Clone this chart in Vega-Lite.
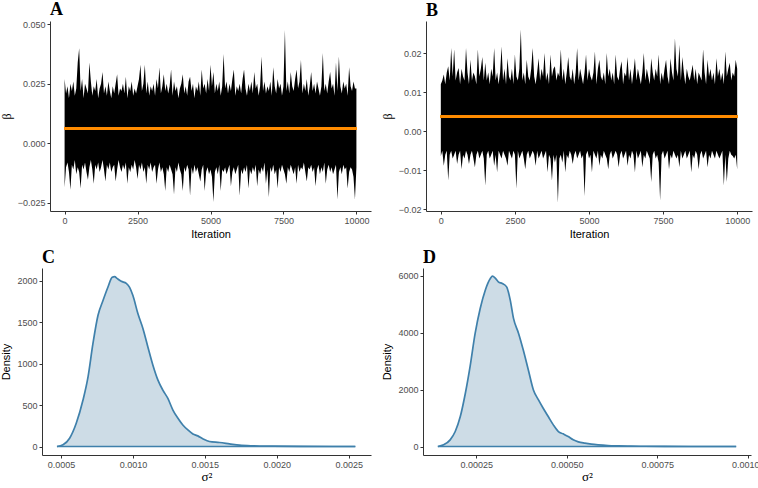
{
"$schema": "https://vega.github.io/schema/vega-lite/v6.json",
"padding": {"left": 0, "top": 1, "right": 0, "bottom": 0},
"background": "white",
"spacing": 10,
"datasets": {
"A": [
{"i":0,"lo":-0.0185,"hi":0.027},{"i":50,"lo":-0.010,"hi":0.021},{"i":100,"lo":-0.008,"hi":0.024},{"i":150,"lo":-0.012,"hi":0.019},{"i":200,"lo":-0.0195,"hi":0.025},{"i":250,"lo":-0.009,"hi":0.022},{"i":300,"lo":-0.011,"hi":0.026},{"i":350,"lo":-0.007,"hi":0.020},{"i":400,"lo":-0.013,"hi":0.023},{"i":450,"lo":-0.010,"hi":0.034},
{"i":500,"lo":-0.012,"hi":0.040},{"i":550,"lo":-0.019,"hi":0.022},{"i":600,"lo":-0.009,"hi":0.027},{"i":650,"lo":-0.011,"hi":0.019},{"i":700,"lo":-0.008,"hi":0.025},{"i":750,"lo":-0.012,"hi":0.023},{"i":800,"lo":-0.0153,"hi":0.021},{"i":850,"lo":-0.010,"hi":0.034},{"i":900,"lo":-0.007,"hi":0.026},{"i":950,"lo":-0.011,"hi":0.020},
{"i":1000,"lo":-0.017,"hi":0.024},{"i":1050,"lo":-0.009,"hi":0.022},{"i":1100,"lo":-0.011,"hi":0.027},{"i":1150,"lo":-0.008,"hi":0.019},{"i":1200,"lo":-0.012,"hi":0.023},{"i":1250,"lo":-0.010,"hi":0.025},{"i":1300,"lo":-0.007,"hi":0.030},{"i":1350,"lo":-0.011,"hi":0.021},{"i":1400,"lo":-0.016,"hi":0.024},{"i":1450,"lo":-0.009,"hi":0.020},
{"i":1500,"lo":-0.011,"hi":0.026},{"i":1550,"lo":-0.008,"hi":0.022},{"i":1600,"lo":-0.012,"hi":0.019},{"i":1650,"lo":-0.010,"hi":0.024},{"i":1700,"lo":-0.009,"hi":0.021},{"i":1750,"lo":-0.016,"hi":0.025},{"i":1800,"lo":-0.011,"hi":0.029},{"i":1850,"lo":-0.007,"hi":0.020},{"i":1900,"lo":-0.010,"hi":0.023},{"i":1950,"lo":-0.012,"hi":0.022},
{"i":2000,"lo":-0.009,"hi":0.025},{"i":2050,"lo":-0.011,"hi":0.021},{"i":2100,"lo":-0.008,"hi":0.028},{"i":2150,"lo":-0.017,"hi":0.019},{"i":2200,"lo":-0.010,"hi":0.024},{"i":2250,"lo":-0.012,"hi":0.022},{"i":2300,"lo":-0.009,"hi":0.026},{"i":2350,"lo":-0.011,"hi":0.020},{"i":2400,"lo":-0.007,"hi":0.023},{"i":2450,"lo":-0.010,"hi":0.021},
{"i":2500,"lo":-0.015,"hi":0.024},{"i":2550,"lo":-0.009,"hi":0.027},{"i":2600,"lo":-0.011,"hi":0.033},{"i":2650,"lo":-0.008,"hi":0.022},{"i":2700,"lo":-0.012,"hi":0.025},{"i":2750,"lo":-0.010,"hi":0.033},{"i":2800,"lo":-0.017,"hi":0.021},{"i":2850,"lo":-0.009,"hi":0.026},{"i":2900,"lo":-0.011,"hi":0.020},{"i":2950,"lo":-0.008,"hi":0.024},
{"i":3000,"lo":-0.012,"hi":0.022},{"i":3050,"lo":-0.010,"hi":0.025},{"i":3100,"lo":-0.009,"hi":0.020},{"i":3150,"lo":-0.017,"hi":0.027},{"i":3200,"lo":-0.011,"hi":0.023},{"i":3250,"lo":-0.008,"hi":0.032},{"i":3300,"lo":-0.012,"hi":0.021},{"i":3350,"lo":-0.010,"hi":0.024},{"i":3400,"lo":-0.013,"hi":0.029},{"i":3450,"lo":-0.020,"hi":0.022},
{"i":3500,"lo":-0.010,"hi":0.025},{"i":3550,"lo":-0.012,"hi":0.021},{"i":3600,"lo":-0.009,"hi":0.024},{"i":3650,"lo":-0.011,"hi":0.031},{"i":3700,"lo":-0.013,"hi":0.020},{"i":3750,"lo":-0.0215,"hi":0.026},{"i":3800,"lo":-0.010,"hi":0.022},{"i":3850,"lo":-0.012,"hi":0.024},{"i":3900,"lo":-0.008,"hi":0.019},{"i":3950,"lo":-0.011,"hi":0.023},
{"i":4000,"lo":-0.013,"hi":0.025},{"i":4050,"lo":-0.020,"hi":0.029},{"i":4100,"lo":-0.010,"hi":0.021},{"i":4150,"lo":-0.012,"hi":0.024},{"i":4200,"lo":-0.009,"hi":0.020},{"i":4250,"lo":-0.011,"hi":0.026},{"i":4300,"lo":-0.022,"hi":0.028},{"i":4350,"lo":-0.010,"hi":0.022},{"i":4400,"lo":-0.013,"hi":0.025},{"i":4450,"lo":-0.009,"hi":0.019},
{"i":4500,"lo":-0.012,"hi":0.024},{"i":4550,"lo":-0.010,"hi":0.022},{"i":4600,"lo":-0.013,"hi":0.026},{"i":4650,"lo":-0.016,"hi":0.020},{"i":4700,"lo":-0.011,"hi":0.031},{"i":4750,"lo":-0.009,"hi":0.023},{"i":4800,"lo":-0.020,"hi":0.025},{"i":4850,"lo":-0.012,"hi":0.021},{"i":4900,"lo":-0.010,"hi":0.027},{"i":4950,"lo":-0.013,"hi":0.022},
{"i":5000,"lo":-0.011,"hi":0.033},{"i":5050,"lo":-0.014,"hi":0.024},{"i":5100,"lo":-0.0246,"hi":0.030},{"i":5150,"lo":-0.012,"hi":0.021},{"i":5200,"lo":-0.010,"hi":0.025},{"i":5250,"lo":-0.013,"hi":0.022},{"i":5300,"lo":-0.009,"hi":0.026},{"i":5350,"lo":-0.020,"hi":0.020},{"i":5400,"lo":-0.011,"hi":0.024},{"i":5450,"lo":-0.012,"hi":0.0375},
{"i":5500,"lo":-0.010,"hi":0.023},{"i":5550,"lo":-0.013,"hi":0.026},{"i":5600,"lo":-0.011,"hi":0.021},{"i":5650,"lo":-0.009,"hi":0.025},{"i":5700,"lo":-0.018,"hi":0.022},{"i":5750,"lo":-0.012,"hi":0.027},{"i":5800,"lo":-0.010,"hi":0.031},{"i":5850,"lo":-0.013,"hi":0.020},{"i":5900,"lo":-0.011,"hi":0.024},{"i":5950,"lo":-0.009,"hi":0.022},
{"i":6000,"lo":-0.022,"hi":0.025},{"i":6050,"lo":-0.011,"hi":0.021},{"i":6100,"lo":-0.013,"hi":0.027},{"i":6150,"lo":-0.010,"hi":0.031},{"i":6200,"lo":-0.012,"hi":0.023},{"i":6250,"lo":-0.009,"hi":0.020},{"i":6300,"lo":-0.019,"hi":0.025},{"i":6350,"lo":-0.011,"hi":0.022},{"i":6400,"lo":-0.013,"hi":0.026},{"i":6450,"lo":-0.010,"hi":0.021},
{"i":6500,"lo":-0.012,"hi":0.030},{"i":6550,"lo":-0.009,"hi":0.023},{"i":6600,"lo":-0.018,"hi":0.025},{"i":6650,"lo":-0.011,"hi":0.020},{"i":6700,"lo":-0.013,"hi":0.024},{"i":6750,"lo":-0.010,"hi":0.0365},{"i":6800,"lo":-0.012,"hi":0.022},{"i":6850,"lo":-0.008,"hi":0.026},{"i":6900,"lo":-0.017,"hi":0.021},{"i":6950,"lo":-0.011,"hi":0.024},
{"i":7000,"lo":-0.0226,"hi":0.022},{"i":7050,"lo":-0.010,"hi":0.026},{"i":7100,"lo":-0.012,"hi":0.020},{"i":7150,"lo":-0.009,"hi":0.032},{"i":7200,"lo":-0.013,"hi":0.024},{"i":7250,"lo":-0.011,"hi":0.021},{"i":7300,"lo":-0.019,"hi":0.027},{"i":7350,"lo":-0.010,"hi":0.023},{"i":7400,"lo":-0.012,"hi":0.025},{"i":7450,"lo":-0.009,"hi":0.020},
{"i":7500,"lo":-0.011,"hi":0.024},{"i":7550,"lo":-0.013,"hi":0.0476},{"i":7600,"lo":-0.017,"hi":0.022},{"i":7650,"lo":-0.010,"hi":0.026},{"i":7700,"lo":-0.012,"hi":0.021},{"i":7750,"lo":-0.009,"hi":0.030},{"i":7800,"lo":-0.011,"hi":0.024},{"i":7850,"lo":-0.013,"hi":0.022},{"i":7900,"lo":-0.010,"hi":0.027},{"i":7950,"lo":-0.017,"hi":0.031},
{"i":8000,"lo":-0.009,"hi":0.023},{"i":8050,"lo":-0.012,"hi":0.026},{"i":8100,"lo":-0.010,"hi":0.035},{"i":8150,"lo":-0.011,"hi":0.021},{"i":8200,"lo":-0.008,"hi":0.025},{"i":8250,"lo":-0.012,"hi":0.022},{"i":8300,"lo":-0.016,"hi":0.027},{"i":8350,"lo":-0.010,"hi":0.020},{"i":8400,"lo":-0.011,"hi":0.024},{"i":8450,"lo":-0.009,"hi":0.030},
{"i":8500,"lo":-0.012,"hi":0.022},{"i":8550,"lo":-0.010,"hi":0.025},{"i":8600,"lo":-0.018,"hi":0.021},{"i":8650,"lo":-0.011,"hi":0.026},{"i":8700,"lo":-0.009,"hi":0.023},{"i":8750,"lo":-0.013,"hi":0.020},{"i":8800,"lo":-0.010,"hi":0.024},{"i":8850,"lo":-0.012,"hi":0.038},{"i":8900,"lo":-0.008,"hi":0.022},{"i":8950,"lo":-0.017,"hi":0.025},
{"i":9000,"lo":-0.011,"hi":0.021},{"i":9050,"lo":-0.009,"hi":0.026},{"i":9100,"lo":-0.012,"hi":0.030},{"i":9150,"lo":-0.010,"hi":0.023},{"i":9200,"lo":-0.013,"hi":0.025},{"i":9250,"lo":-0.011,"hi":0.020},{"i":9300,"lo":-0.009,"hi":0.034},{"i":9350,"lo":-0.0236,"hi":0.022},{"i":9400,"lo":-0.012,"hi":0.0365},{"i":9450,"lo":-0.010,"hi":0.024},
{"i":9500,"lo":-0.013,"hi":0.021},{"i":9550,"lo":-0.009,"hi":0.026},{"i":9600,"lo":-0.011,"hi":0.023},{"i":9650,"lo":-0.010,"hi":0.025},{"i":9700,"lo":-0.019,"hi":0.020},{"i":9750,"lo":-0.012,"hi":0.032},{"i":9800,"lo":-0.010,"hi":0.024},{"i":9850,"lo":-0.011,"hi":0.022},{"i":9900,"lo":-0.014,"hi":0.026},{"i":9950,"lo":-0.0236,"hi":0.023},
{"i":10000,"lo":-0.010,"hi":0.023}
],
"B": [
{"i":0,"lo":-0.0063,"hi":0.012},{"i":50,"lo":-0.005,"hi":0.013},{"i":100,"lo":-0.0088,"hi":0.0145},{"i":150,"lo":-0.006,"hi":0.012},{"i":200,"lo":-0.005,"hi":0.015},{"i":250,"lo":-0.0126,"hi":0.0166},{"i":300,"lo":-0.006,"hi":0.013},{"i":350,"lo":-0.005,"hi":0.0213},{"i":400,"lo":-0.007,"hi":0.014},{"i":450,"lo":-0.006,"hi":0.021},
{"i":500,"lo":-0.005,"hi":0.013},{"i":550,"lo":-0.0084,"hi":0.015},{"i":600,"lo":-0.006,"hi":0.0162},{"i":650,"lo":-0.005,"hi":0.012},{"i":700,"lo":-0.0097,"hi":0.016},{"i":750,"lo":-0.006,"hi":0.014},{"i":800,"lo":-0.007,"hi":0.013},{"i":850,"lo":-0.005,"hi":0.0213},{"i":900,"lo":-0.006,"hi":0.015},{"i":950,"lo":-0.0084,"hi":0.012},
{"i":1000,"lo":-0.006,"hi":0.0183},{"i":1050,"lo":-0.005,"hi":0.013},{"i":1100,"lo":-0.007,"hi":0.015},{"i":1150,"lo":-0.0092,"hi":0.014},{"i":1200,"lo":-0.006,"hi":0.012},{"i":1250,"lo":-0.005,"hi":0.021},{"i":1300,"lo":-0.007,"hi":0.014},{"i":1350,"lo":-0.006,"hi":0.016},{"i":1400,"lo":-0.005,"hi":0.019},{"i":1450,"lo":-0.007,"hi":0.013},
{"i":1500,"lo":-0.0139,"hi":0.0175},{"i":1550,"lo":-0.006,"hi":0.013},{"i":1600,"lo":-0.005,"hi":0.015},{"i":1650,"lo":-0.007,"hi":0.012},{"i":1700,"lo":-0.006,"hi":0.016},{"i":1750,"lo":-0.005,"hi":0.014},{"i":1800,"lo":-0.0088,"hi":0.0213},{"i":1850,"lo":-0.006,"hi":0.013},{"i":1900,"lo":-0.0105,"hi":0.015},{"i":1950,"lo":-0.005,"hi":0.012},
{"i":2000,"lo":-0.006,"hi":0.015},{"i":2050,"lo":-0.007,"hi":0.0217},{"i":2100,"lo":-0.005,"hi":0.013},{"i":2150,"lo":-0.006,"hi":0.016},{"i":2200,"lo":-0.007,"hi":0.012},{"i":2250,"lo":-0.0088,"hi":0.0187},{"i":2300,"lo":-0.005,"hi":0.014},{"i":2350,"lo":-0.006,"hi":0.013},{"i":2400,"lo":-0.007,"hi":0.016},{"i":2450,"lo":-0.005,"hi":0.012},
{"i":2500,"lo":-0.006,"hi":0.0196},{"i":2550,"lo":-0.0147,"hi":0.014},{"i":2600,"lo":-0.005,"hi":0.013},{"i":2650,"lo":-0.007,"hi":0.016},{"i":2700,"lo":-0.006,"hi":0.026},{"i":2750,"lo":-0.005,"hi":0.013},{"i":2800,"lo":-0.007,"hi":0.015},{"i":2850,"lo":-0.0097,"hi":0.012},{"i":2900,"lo":-0.006,"hi":0.0183},{"i":2950,"lo":-0.005,"hi":0.014},
{"i":3000,"lo":-0.007,"hi":0.013},{"i":3050,"lo":-0.006,"hi":0.016},{"i":3100,"lo":-0.005,"hi":0.0213},{"i":3150,"lo":-0.006,"hi":0.014},{"i":3200,"lo":-0.0088,"hi":0.012},{"i":3250,"lo":-0.005,"hi":0.015},{"i":3300,"lo":-0.007,"hi":0.0187},{"i":3350,"lo":-0.006,"hi":0.013},{"i":3400,"lo":-0.005,"hi":0.016},{"i":3450,"lo":-0.007,"hi":0.014},
{"i":3500,"lo":-0.006,"hi":0.020},{"i":3550,"lo":-0.005,"hi":0.013},{"i":3600,"lo":-0.0105,"hi":0.015},{"i":3650,"lo":-0.006,"hi":0.012},{"i":3700,"lo":-0.007,"hi":0.0196},{"i":3750,"lo":-0.0126,"hi":0.014},{"i":3800,"lo":-0.006,"hi":0.016},{"i":3850,"lo":-0.008,"hi":0.0166},{"i":3900,"lo":-0.006,"hi":0.013},{"i":3950,"lo":-0.0183,"hi":0.015},
{"i":4000,"lo":-0.007,"hi":0.014},{"i":4050,"lo":-0.006,"hi":0.021},{"i":4100,"lo":-0.008,"hi":0.013},{"i":4150,"lo":-0.005,"hi":0.016},{"i":4200,"lo":-0.0105,"hi":0.012},{"i":4250,"lo":-0.006,"hi":0.015},{"i":4300,"lo":-0.007,"hi":0.019},{"i":4350,"lo":-0.005,"hi":0.014},{"i":4400,"lo":-0.006,"hi":0.013},{"i":4450,"lo":-0.0084,"hi":0.016},
{"i":4500,"lo":-0.006,"hi":0.012},{"i":4550,"lo":-0.005,"hi":0.015},{"i":4600,"lo":-0.007,"hi":0.0213},{"i":4650,"lo":-0.006,"hi":0.013},{"i":4700,"lo":-0.005,"hi":0.016},{"i":4750,"lo":-0.007,"hi":0.014},{"i":4800,"lo":-0.006,"hi":0.012},{"i":4850,"lo":-0.0166,"hi":0.015},{"i":4900,"lo":-0.006,"hi":0.0196},{"i":4950,"lo":-0.005,"hi":0.013},
{"i":5000,"lo":-0.007,"hi":0.016},{"i":5050,"lo":-0.006,"hi":0.014},{"i":5100,"lo":-0.0105,"hi":0.013},{"i":5150,"lo":-0.005,"hi":0.015},{"i":5200,"lo":-0.006,"hi":0.0204},{"i":5250,"lo":-0.007,"hi":0.012},{"i":5300,"lo":-0.005,"hi":0.016},{"i":5350,"lo":-0.0088,"hi":0.0183},{"i":5400,"lo":-0.006,"hi":0.014},{"i":5450,"lo":-0.007,"hi":0.013},
{"i":5500,"lo":-0.005,"hi":0.015},{"i":5550,"lo":-0.006,"hi":0.012},{"i":5600,"lo":-0.007,"hi":0.020},{"i":5650,"lo":-0.0097,"hi":0.014},{"i":5700,"lo":-0.006,"hi":0.016},{"i":5750,"lo":-0.005,"hi":0.013},{"i":5800,"lo":-0.007,"hi":0.015},{"i":5850,"lo":-0.006,"hi":0.012},{"i":5900,"lo":-0.005,"hi":0.0196},{"i":5950,"lo":-0.006,"hi":0.014},
{"i":6000,"lo":-0.0092,"hi":0.013},{"i":6050,"lo":-0.006,"hi":0.016},{"i":6100,"lo":-0.005,"hi":0.0179},{"i":6150,"lo":-0.007,"hi":0.012},{"i":6200,"lo":-0.006,"hi":0.015},{"i":6250,"lo":-0.005,"hi":0.014},{"i":6300,"lo":-0.0088,"hi":0.019},{"i":6350,"lo":-0.006,"hi":0.013},{"i":6400,"lo":-0.007,"hi":0.016},{"i":6450,"lo":-0.005,"hi":0.012},
{"i":6500,"lo":-0.006,"hi":0.015},{"i":6550,"lo":-0.0105,"hi":0.0187},{"i":6600,"lo":-0.005,"hi":0.013},{"i":6650,"lo":-0.007,"hi":0.016},{"i":6700,"lo":-0.006,"hi":0.014},{"i":6750,"lo":-0.005,"hi":0.012},{"i":6800,"lo":-0.0092,"hi":0.015},{"i":6850,"lo":-0.006,"hi":0.020},{"i":6900,"lo":-0.007,"hi":0.013},{"i":6950,"lo":-0.005,"hi":0.016},
{"i":7000,"lo":-0.006,"hi":0.014},{"i":7050,"lo":-0.007,"hi":0.012},{"i":7100,"lo":-0.013,"hi":0.0187},{"i":7150,"lo":-0.006,"hi":0.015},{"i":7200,"lo":-0.005,"hi":0.013},{"i":7250,"lo":-0.007,"hi":0.016},{"i":7300,"lo":-0.006,"hi":0.014},{"i":7350,"lo":-0.008,"hi":0.0196},{"i":7400,"lo":-0.0177,"hi":0.012},{"i":7450,"lo":-0.006,"hi":0.015},
{"i":7500,"lo":-0.005,"hi":0.013},{"i":7550,"lo":-0.007,"hi":0.016},{"i":7600,"lo":-0.006,"hi":0.0183},{"i":7650,"lo":-0.005,"hi":0.014},{"i":7700,"lo":-0.0097,"hi":0.012},{"i":7750,"lo":-0.006,"hi":0.0187},{"i":7800,"lo":-0.007,"hi":0.015},{"i":7850,"lo":-0.005,"hi":0.013},{"i":7900,"lo":-0.006,"hi":0.0238},{"i":7950,"lo":-0.007,"hi":0.016},
{"i":8000,"lo":-0.006,"hi":0.014},{"i":8050,"lo":-0.0092,"hi":0.0221},{"i":8100,"lo":-0.005,"hi":0.013},{"i":8150,"lo":-0.007,"hi":0.019},{"i":8200,"lo":-0.006,"hi":0.015},{"i":8250,"lo":-0.005,"hi":0.012},{"i":8300,"lo":-0.007,"hi":0.016},{"i":8350,"lo":-0.006,"hi":0.014},{"i":8400,"lo":-0.005,"hi":0.013},{"i":8450,"lo":-0.0105,"hi":0.015},
{"i":8500,"lo":-0.006,"hi":0.017},{"i":8550,"lo":-0.007,"hi":0.013},{"i":8600,"lo":-0.005,"hi":0.016},{"i":8650,"lo":-0.006,"hi":0.012},{"i":8700,"lo":-0.0097,"hi":0.015},{"i":8750,"lo":-0.006,"hi":0.014},{"i":8800,"lo":-0.005,"hi":0.013},{"i":8850,"lo":-0.007,"hi":0.021},{"i":8900,"lo":-0.006,"hi":0.015},{"i":8950,"lo":-0.005,"hi":0.012},
{"i":9000,"lo":-0.0092,"hi":0.0183},{"i":9050,"lo":-0.006,"hi":0.014},{"i":9100,"lo":-0.007,"hi":0.016},{"i":9150,"lo":-0.005,"hi":0.013},{"i":9200,"lo":-0.006,"hi":0.015},{"i":9250,"lo":-0.007,"hi":0.012},{"i":9300,"lo":-0.005,"hi":0.0187},{"i":9350,"lo":-0.006,"hi":0.014},{"i":9400,"lo":-0.007,"hi":0.016},{"i":9450,"lo":-0.006,"hi":0.013},
{"i":9500,"lo":-0.005,"hi":0.015},{"i":9550,"lo":-0.0139,"hi":0.012},{"i":9600,"lo":-0.006,"hi":0.0204},{"i":9650,"lo":-0.013,"hi":0.014},{"i":9700,"lo":-0.007,"hi":0.016},{"i":9750,"lo":-0.005,"hi":0.0175},{"i":9800,"lo":-0.006,"hi":0.013},{"i":9850,"lo":-0.0063,"hi":0.015},{"i":9900,"lo":-0.007,"hi":0.014},{"i":9950,"lo":-0.006,"hi":0.0183},
{"i":10000,"lo":-0.0097,"hi":0.016}
],
"C": [
{"x":0.000472,"d":0},{"x":0.000514,"d":20},{"x":0.00056,"d":100},{"x":0.000606,"d":280},{"x":0.000653,"d":560},{"x":0.000688,"d":840},{"x":0.000722,"d":1240},{"x":0.000757,"d":1580},{"x":0.000792,"d":1760},{"x":0.000826,"d":1920},{"x":0.000856,"d":2040},{"x":0.000873,"d":2048},{"x":0.000889,"d":2028},{"x":0.000919,"d":1992},{"x":0.000954,"d":1968},{"x":0.000977,"d":1920},{"x":0.0010,"d":1820},{"x":0.001035,"d":1600},{"x":0.00107,"d":1420},{"x":0.001104,"d":1200},{"x":0.001139,"d":980},{"x":0.001174,"d":800},{"x":0.001208,"d":680},{"x":0.001243,"d":580},{"x":0.001278,"d":440},{"x":0.001313,"d":340},{"x":0.001347,"d":260},{"x":0.001382,"d":200},{"x":0.001417,"d":152},{"x":0.001451,"d":128},{"x":0.001491,"d":88},{"x":0.001532,"d":60},{"x":0.001602,"d":48},{"x":0.001671,"d":32},{"x":0.001741,"d":16},{"x":0.001833,"d":8},{"x":0.001972,"d":4},{"x":0.002157,"d":1},{"x":0.002389,"d":0},{"x":0.002546,"d":0}
],
"D": [
{"x":0.000144,"d":0},{"x":0.00016,"d":58},{"x":0.000178,"d":234},{"x":0.000192,"d":527},{"x":0.000206,"d":1053},{"x":0.00022,"d":1872},{"x":0.000233,"d":2808},{"x":0.000247,"d":3978},{"x":0.000261,"d":4856},{"x":0.000275,"d":5499},{"x":0.000289,"d":5909},{"x":0.000295,"d":5990},{"x":0.000302,"d":5932},{"x":0.000311,"d":5792},{"x":0.000322,"d":5733},{"x":0.000334,"d":5616},{"x":0.000344,"d":5148},{"x":0.000353,"d":4505},{"x":0.000367,"d":3978},{"x":0.00038,"d":3393},{"x":0.000394,"d":2691},{"x":0.000408,"d":1989},{"x":0.000422,"d":1638},{"x":0.000435,"d":1346},{"x":0.000449,"d":1053},{"x":0.000463,"d":761},{"x":0.000477,"d":527},{"x":0.00049,"d":445},{"x":0.000504,"d":351},{"x":0.000518,"d":234},{"x":0.000532,"d":164},{"x":0.00055,"d":117},{"x":0.000568,"d":82},{"x":0.000587,"d":58},{"x":0.000614,"d":35},{"x":0.000642,"d":23},{"x":0.000678,"d":12},{"x":0.000715,"d":8},{"x":0.00077,"d":3},{"x":0.000853,"d":0},{"x":0.000968,"d":0}
]
},
"vconcat": [
{
"bounds": "flush",
"spacing": 0,
"hconcat": [
{"width": 8, "height": 190, "data": {"values": [{}]}, "mark": {"type": "text", "text": ""}, "encoding": {}},
{
"width": 321, "height": 190,
"title": {"text": "A"},
"data": {"name": "A"},
"layer": [
{"mark": {"type": "area", "color": "#000000"},
"encoding": {
"x": {"field": "i", "type": "quantitative", "scale": {"domain": [-500, 10500], "nice": false, "zero": false}, "axis": {"title": "Iteration", "values": [0, 2500, 5000, 7500, 10000], "format": "d", "titlePadding": 3}},
"y": {"field": "lo", "type": "quantitative", "scale": {"domain": [-0.0284, 0.0514], "nice": false, "zero": false}, "axis": {"title": "β", "values": [-0.025, 0, 0.025, 0.05], "format": ".3f", "titleFont": "Liberation Serif", "titleFontSize": 12, "titlePadding": 4}},
"y2": {"field": "hi"}
}},
{"mark": {"type": "rule", "color": "#ff8c00", "strokeWidth": 2},
"encoding": {"x": {"datum": 0}, "x2": {"datum": 10000}, "y": {"datum": 0.00625}}}
]
},
{"width": 55, "height": 190, "data": {"values": [{}]}, "mark": {"type": "text", "text": ""}, "encoding": {}},
{
"width": 326, "height": 190,
"title": {"text": "B"},
"data": {"name": "B"},
"layer": [
{"mark": {"type": "area", "color": "#000000"},
"encoding": {
"x": {"field": "i", "type": "quantitative", "scale": {"domain": [-500, 10500], "nice": false, "zero": false}, "axis": {"title": "Iteration", "values": [0, 2500, 5000, 7500, 10000], "format": "d", "titlePadding": 3}},
"y": {"field": "lo", "type": "quantitative", "scale": {"domain": [-0.0204, 0.0282], "nice": false, "zero": false}, "axis": {"title": "β", "values": [-0.02, -0.01, 0, 0.01, 0.02], "format": ".2f", "titleFont": "Liberation Serif", "titleFontSize": 12, "titlePadding": 4}},
"y2": {"field": "hi"}
}},
{"mark": {"type": "rule", "color": "#ff8c00", "strokeWidth": 2},
"encoding": {"x": {"datum": 0}, "x2": {"datum": 10000}, "y": {"datum": 0.0037}}}
]
}
]
},
{
"bounds": "flush",
"spacing": 52,
"hconcat": [
{
"width": 329, "height": 187,
"title": {"text": "C"},
"data": {"name": "C"},
"layer": [
{"mark": {"type": "area", "color": "#cddce6", "interpolate": "monotone"},
"encoding": {
"x": {"field": "x", "type": "quantitative", "scale": {"domain": [0.000368, 0.002655], "nice": false, "zero": false}, "axis": {"title": "σ²", "values": [0.0005, 0.001, 0.0015, 0.002, 0.0025], "format": ".4f", "titleFont": "Liberation Serif", "titleFontSize": 13, "titlePadding": 1}},
"y": {"field": "d", "type": "quantitative", "scale": {"domain": [-102.5, 2152.5], "nice": false, "zero": false}, "axis": {"title": "Density", "values": [0, 500, 1000, 1500, 2000], "format": "d", "titlePadding": 5}}
}},
{"mark": {"type": "line", "color": "#3f80ab", "strokeWidth": 1.7, "interpolate": "monotone"},
"encoding": {"x": {"field": "x", "type": "quantitative"}, "y": {"field": "d", "type": "quantitative"}}},
{"mark": {"type": "rule", "color": "#3f80ab", "strokeWidth": 1.7},
"encoding": {"x": {"aggregate": "min", "field": "x", "type": "quantitative"}, "x2": {"aggregate": "max", "field": "x"}, "y": {"datum": 0}}}
]
},
{
"width": 328, "height": 187,
"title": {"text": "D"},
"data": {"name": "D"},
"layer": [
{"mark": {"type": "area", "color": "#cddce6", "interpolate": "monotone"},
"encoding": {
"x": {"field": "x", "type": "quantitative", "scale": {"domain": [0.000103, 0.001009], "nice": false, "zero": false}, "axis": {"title": "σ²", "values": [0.00025, 0.0005, 0.00075, 0.001], "format": ".5f", "titleFont": "Liberation Serif", "titleFontSize": 13, "titlePadding": 1}},
"y": {"field": "d", "type": "quantitative", "scale": {"domain": [-299, 6279], "nice": false, "zero": false}, "axis": {"title": "Density", "values": [0, 2000, 4000, 6000], "format": "d", "titlePadding": 5}}
}},
{"mark": {"type": "line", "color": "#3f80ab", "strokeWidth": 1.7, "interpolate": "monotone"},
"encoding": {"x": {"field": "x", "type": "quantitative"}, "y": {"field": "d", "type": "quantitative"}}},
{"mark": {"type": "rule", "color": "#3f80ab", "strokeWidth": 1.7},
"encoding": {"x": {"aggregate": "min", "field": "x", "type": "quantitative"}, "x2": {"aggregate": "max", "field": "x"}, "y": {"datum": 0}}}
]
}
]
}
],
"config": {
"view": {"stroke": null},
"axis": {"grid": false, "domainColor": "#333333", "tickColor": "#333333", "tickSize": 3, "domainWidth": 1, "labelFont": "Liberation Sans", "labelFontSize": 9, "labelColor": "#4d4d4d", "labelPadding": 2, "labelFlush": false, "labelOverlap": false, "titleFont": "Liberation Sans", "titleFontSize": 11, "titleFontWeight": "normal", "titleColor": "#000000"},
"title": {"font": "Liberation Serif", "fontSize": 18, "fontWeight": "bold", "anchor": "start", "frame": "group", "baseline": "alphabetic", "offset": 1, "color": "#000000"}
}
}
